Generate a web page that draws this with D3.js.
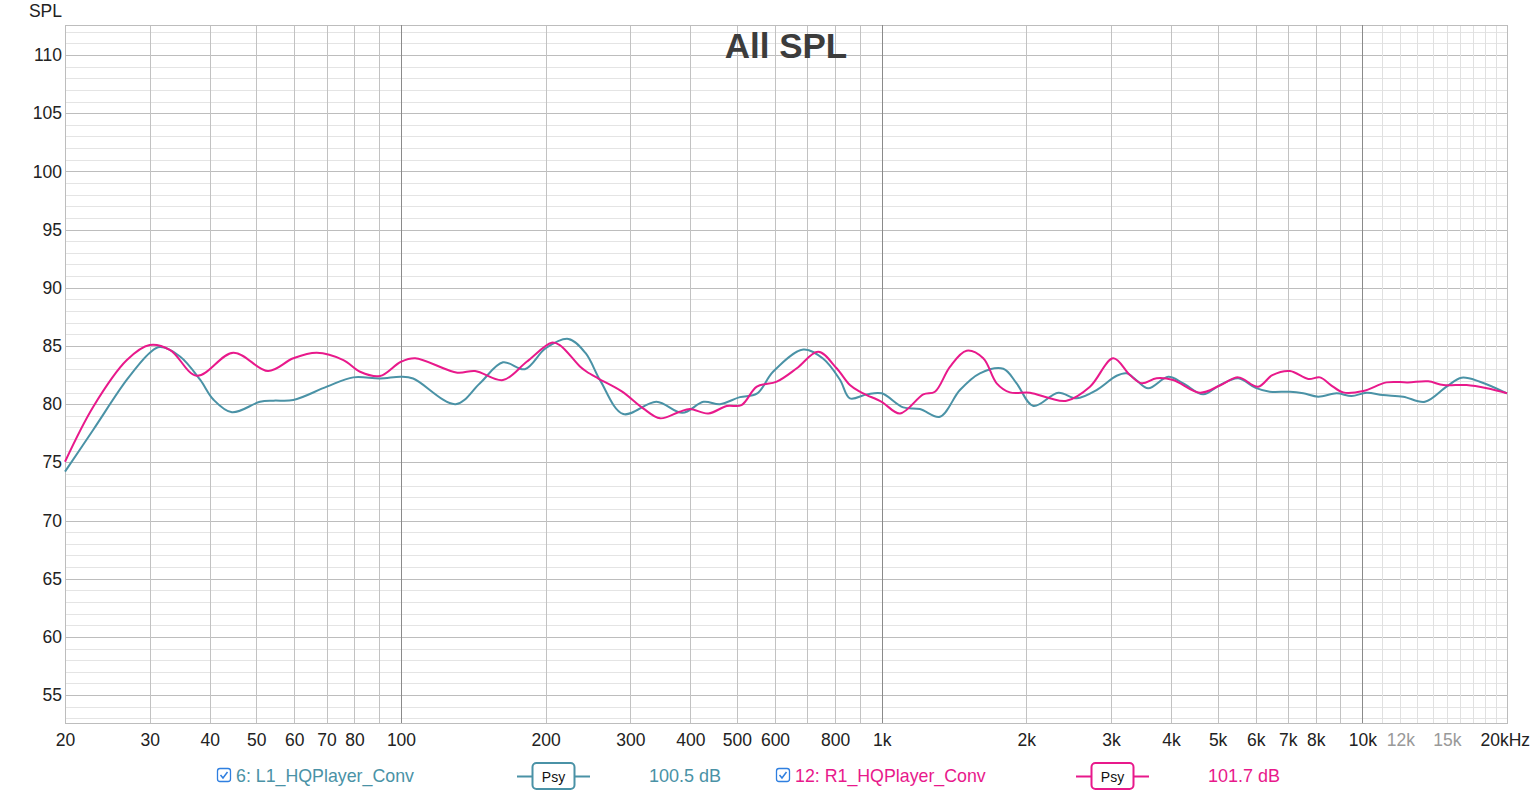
<!DOCTYPE html>
<html>
<head>
<meta charset="utf-8">
<script src="https://cdn.jsdelivr.net/npm/d3@7"></script>
<style>
  html, body { margin: 0; padding: 0; background: #fff; }
  svg { display: block; font-family: "Liberation Sans", Arial, Helvetica, sans-serif; }
</style>
</head>
<body>
<svg id="chart" width="1539" height="793"></svg>
<script>
// L1 trace (teal) — frequency in Hz, level in dB
const l1Freq = [20, 22.9, 26.9, 30, 31.5, 34.7, 38.2, 40.7, 44.5, 50.9, 54.3, 59.7, 70.1, 79.6, 90.4, 100, 106, 130, 146, 163, 181, 200, 223, 242, 260, 290, 340, 385, 426, 461, 507, 550, 595, 687, 756, 819, 859, 931, 1000, 1109, 1201, 1322, 1455, 1601, 1791, 1909, 2068, 2331, 2545, 2800, 3083, 3233, 3385, 3586, 3947, 4242, 4666, 5055, 5519, 6000, 6418, 7070, 7535, 8097, 8842, 9500, 10210, 11030, 12166, 13500, 14970, 16090, 17560, 20000];
const l1Spl  = [74.2, 77.8, 82.1, 84.4, 84.9, 84.1, 82.1, 80.4, 79.3, 80.2, 80.3, 80.35, 81.5, 82.3, 82.2, 82.35, 82.2, 80.0, 81.8, 83.6, 83.0, 84.8, 85.6, 84.4, 82.0, 79.15, 80.2, 79.25, 80.2, 80.0, 80.6, 80.9, 82.8, 84.7, 83.9, 82.1, 80.5, 80.84, 80.93, 79.72, 79.58, 78.92, 81.21, 82.65, 83.04, 81.79, 79.84, 80.98, 80.5, 81.21, 82.44, 82.65, 82.07, 81.36, 82.35, 81.79, 80.84, 81.64, 82.22, 81.4, 81.07, 81.07, 80.93, 80.64, 80.93, 80.7, 80.98, 80.78, 80.64, 80.2, 81.5, 82.27, 81.93, 80.93];

// R1 trace (magenta)
const r1Freq = [20, 22.9, 26.9, 30, 33.1, 37.6, 44.8, 52.9, 59.7, 66.8, 75.9, 82.2, 90.4, 100, 107, 131, 142.6, 163, 182.6, 205.8, 214, 236, 243.5, 257.5, 288, 319, 346, 380, 399, 436, 476, 511, 550, 605, 666, 738, 806, 859, 901, 931, 1000, 1092, 1221, 1291, 1387, 1502, 1627, 1735, 1849, 2035, 2239, 2425, 2713, 3033, 3285, 3475, 3733, 4041, 4593, 5055, 5519, 6072, 6500, 7070, 7720, 8163, 8600, 9125, 10050, 11230, 12440, 13710, 14750, 16480, 18170, 20000];
const r1Spl  = [75.05, 79.78, 83.79, 85.08, 84.65, 82.44, 84.42, 82.85, 83.94, 84.42, 83.79, 82.78, 82.41, 83.64, 83.94, 82.7, 82.85, 82.07, 83.64, 85.28, 85.08, 83.21, 82.78, 82.2, 81.1, 79.64, 78.78, 79.35, 79.58, 79.2, 79.84, 79.92, 81.5, 81.93, 83.08, 84.5, 83.08, 81.64, 81.07, 80.78, 80.2, 79.2, 80.84, 81.07, 83.21, 84.59, 83.94, 81.79, 81.01, 80.98, 80.5, 80.29, 81.5, 83.94, 82.5, 81.79, 82.22, 82.07, 80.98, 81.6, 82.3, 81.5, 82.5, 82.85, 82.16, 82.3, 81.64, 81.01, 81.13, 81.87, 81.87, 81.96, 81.64, 81.64, 81.36, 80.93];

// axis ticks
const yLabels = [55, 60, 65, 70, 75, 80, 85, 90, 95, 100, 105, 110];
const xTicks = [20, 30, 40, 50, 60, 70, 80, 100, 200, 300, 400, 500, 600, 800, 1000, 2000, 3000, 4000, 5000, 6000, 7000, 8000, 10000, 12000, 15000, 20000];
const xTickText = ["20", "30", "40", "50", "60", "70", "80", "100", "200", "300", "400", "500", "600", "800", "1k", "2k", "3k", "4k", "5k", "6k", "7k", "8k", "10k", "12k", "15k", "20kHz"];
const xMinorGrid = [30, 40, 50, 60, 70, 80, 90, 200, 300, 400, 500, 600, 700, 800, 900, 2000, 3000, 4000, 5000, 6000, 7000, 8000, 9000];
const xDecadeGrid = [100, 1000, 10000];
const xFineGrid = [11000, 12000, 13000, 14000, 15000, 16000, 17000, 18000, 19000];

const series = [
  {name: "6: L1_HQPlayer_Conv", level: "100.5 dB", color: "#4a92a6", freq: l1Freq, spl: l1Spl},
  {name: "12: R1_HQPlayer_Conv", level: "101.7 dB", color: "#e8198b", freq: r1Freq, spl: r1Spl}
];

const svg = d3.select("#chart");
const plotL = 65, plotR = 1507, plotT = 25, plotB = 723;

const x = d3.scaleLog().domain([20, 20000]).range([plotL, plotR]);
const y = d3.scaleLinear().domain([52.6, 112.58]).range([plotB, plotT]);

const grid = svg.append("g");

// horizontal grid every 1 dB, stronger every 5
grid.selectAll("line.h")
  .data(d3.range(53, 113))
  .enter().append("line")
  .attr("x1", plotL).attr("x2", plotR)
  .attr("y1", d => Math.round(y(d)) + 0.5).attr("y2", d => Math.round(y(d)) + 0.5)
  .attr("stroke", d => d % 5 === 0 ? "#bdbdbd" : "#e4e4e4")
  .attr("stroke-width", 1);

grid.selectAll("line.vf")
  .data(xFineGrid)
  .enter().append("line")
  .attr("y1", plotT).attr("y2", plotB)
  .attr("x1", d => Math.round(x(d)) + 0.5).attr("x2", d => Math.round(x(d)) + 0.5)
  .attr("stroke", "#e0e0e0");

grid.selectAll("line.vm")
  .data(xMinorGrid)
  .enter().append("line")
  .attr("y1", plotT).attr("y2", plotB)
  .attr("x1", d => Math.round(x(d)) + 0.5).attr("x2", d => Math.round(x(d)) + 0.5)
  .attr("stroke", "#c2c2c2");

// frame
grid.append("rect")
  .attr("x", plotL + 0.5).attr("y", plotT + 0.5)
  .attr("width", plotR - plotL).attr("height", plotB - plotT)
  .attr("fill", "none").attr("stroke", "#bdbdbd");

grid.selectAll("line.vd")
  .data(xDecadeGrid)
  .enter().append("line")
  .attr("y1", plotT).attr("y2", plotB)
  .attr("x1", d => Math.round(x(d)) + 0.5).attr("x2", d => Math.round(x(d)) + 0.5)
  .attr("stroke", "#8a8a8a");

// y axis labels
const yAxis = svg.append("g")
  .attr("transform", `translate(${plotL},0)`)
  .call(d3.axisLeft(y).tickValues(yLabels).tickSize(0).tickPadding(3));
yAxis.select(".domain").remove();
yAxis.selectAll("text")
  .attr("font-family", "'Liberation Sans', Arial, sans-serif")
  .attr("font-size", 17.5).attr("fill", "#222");

svg.append("text")
  .attr("x", 62).attr("y", 17)
  .attr("text-anchor", "end")
  .attr("font-size", 17.5).attr("fill", "#222")
  .text("SPL");

// x axis labels
const xAxis = svg.append("g")
  .attr("transform", `translate(0,${plotB})`)
  .call(d3.axisBottom(x).tickValues(xTicks).tickSize(0).tickPadding(11)
    .tickFormat((d, i) => xTickText[i]));
xAxis.select(".domain").remove();
xAxis.selectAll("text")
  .attr("font-family", "'Liberation Sans', Arial, sans-serif")
  .attr("font-size", 17.5)
  .attr("fill", d => (d === 12000 || d === 15000) ? "#999" : "#222")
  .attr("text-anchor", d => d === 20000 ? "start" : "middle")
  .attr("dx", d => d === 20000 ? -27 : 0);

// title
svg.append("text")
  .attr("x", (plotL + plotR) / 2).attr("y", 58)
  .attr("text-anchor", "middle")
  .attr("font-size", 35).attr("font-weight", "bold")
  .attr("fill", "#3c3c3c")
  .text("All SPL");

// traces
const line = d3.line()
  .x(d => x(d[0]))
  .y(d => y(d[1]))
  .curve(d3.curveCatmullRom.alpha(0.5));

svg.append("g").selectAll("path")
  .data(series)
  .enter().append("path")
  .attr("d", s => line(s.freq.map((f, i) => [f, s.spl[i]])))
  .attr("fill", "none")
  .attr("stroke", s => s.color)
  .attr("stroke-width", 2);

// legend
const legendX = [217, 776];
const psyX = [517, 1076];
const levelX = [649, 1208];
const ly = 776;

const legend = svg.append("g").selectAll("g")
  .data(series)
  .enter().append("g");

legend.append("rect")
  .attr("x", (d, i) => legendX[i] + 0.5).attr("y", ly - 7.5)
  .attr("width", 13).attr("height", 13).attr("rx", 2.5)
  .attr("fill", "#fff").attr("stroke", "#2f7fe0").attr("stroke-width", 1.3);
legend.append("path")
  .attr("d", (d, i) => `M${legendX[i] + 3.5},${ly - 1} L${legendX[i] + 6},${ly + 2} L${legendX[i] + 10.5},${ly - 4}`)
  .attr("fill", "none").attr("stroke", "#2f7fe0").attr("stroke-width", 1.5);
legend.append("text")
  .attr("x", (d, i) => legendX[i] + 19).attr("y", ly + 6)
  .attr("font-size", 17.8).attr("fill", d => d.color)
  .text(d => d.name);

legend.append("line")
  .attr("x1", (d, i) => psyX[i]).attr("x2", (d, i) => psyX[i] + 73)
  .attr("y1", ly + 0.5).attr("y2", ly + 0.5)
  .attr("stroke", d => d.color).attr("stroke-width", 2);
legend.append("rect")
  .attr("x", (d, i) => psyX[i] + 15.5).attr("y", ly - 13)
  .attr("width", 42).attr("height", 26).attr("rx", 4)
  .attr("fill", "#fff").attr("stroke", d => d.color).attr("stroke-width", 2);
legend.append("text")
  .attr("x", (d, i) => psyX[i] + 36.5).attr("y", ly + 5.5)
  .attr("text-anchor", "middle")
  .attr("font-size", 14).attr("fill", "#111")
  .text("Psy");

legend.append("text")
  .attr("x", (d, i) => levelX[i]).attr("y", ly + 6)
  .attr("font-size", 18).attr("fill", d => d.color)
  .text(d => d.level);
</script>
</body>
</html>
